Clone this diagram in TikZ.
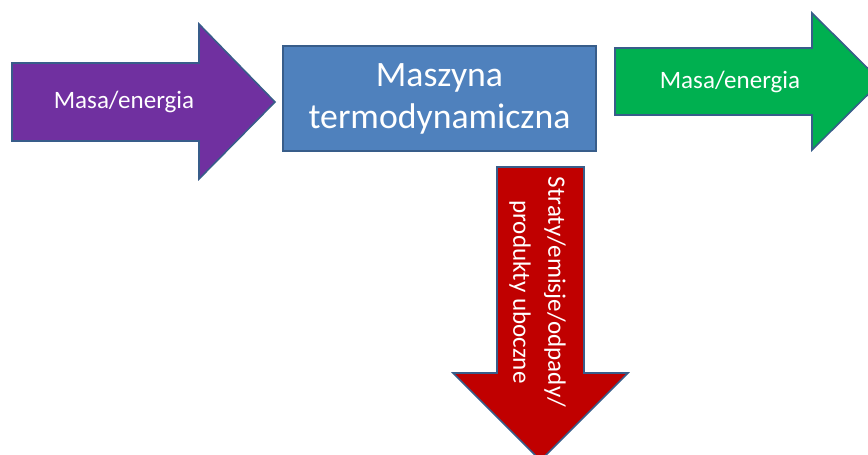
\documentclass[tikz,border=0pt]{standalone}
\usepackage{fontspec}
\setmainfont{Carlito}
\definecolor{mzpurple}{RGB}{112,48,160}
\definecolor{mzblue}{RGB}{79,129,189}
\definecolor{mzgreen}{RGB}{0,176,80}
\definecolor{mzred}{RGB}{192,0,0}
\definecolor{mzedge}{RGB}{56,93,138}

\begin{document}
\begin{tikzpicture}[x=0.025cm,y=-0.025cm,
  blockarrow/.style={draw=mzedge,line width=1.1pt,line join=miter},
  flowtext/.style={text=white,font=\fontsize{17.8}{24.9}\selectfont,align=center}]
  \fill[white] (0,0) rectangle (868,454);
  \useasboundingbox (0,0) rectangle (868,454);
  \clip (0,0) rectangle (868,454);
  % Input arrow
  \fill[mzpurple,blockarrow] (12,63) -- (199,63) -- (199,24) -- (275,102)
    -- (199,179) -- (199,141) -- (12,141) -- cycle;
  \node[flowtext] (inlabel) at (124,102) {Masa/energia};
  % Machine
  \node[draw=mzedge,line width=1.1pt,fill=mzblue,text=white,
    minimum width=7.825cm,minimum height=2.625cm,align=center,
    font=\fontsize{25.4}{29.9}\selectfont] (machine) at (439.5,98.5)
    {Maszyna\\termodynamiczna};
  % Output arrow
  \fill[mzgreen,blockarrow] (615,48) -- (812,48) -- (812,13) -- (881,81.5)
    -- (812,150) -- (812,115) -- (615,115) -- cycle;
  \node[flowtext] (outlabel) at (730,82) {Masa/energia};
  % Losses arrow
  \fill[mzred,blockarrow] (497,167) -- (584,167) -- (584,373) -- (628,373)
    -- (540.5,460.5) -- (453,373) -- (497,373) -- cycle;
  \node[flowtext,rotate=-90] (losslabel) at (537.5,292)
    {Straty/emisje/odpady/\\produkty uboczne};
\end{tikzpicture}
\end{document}
